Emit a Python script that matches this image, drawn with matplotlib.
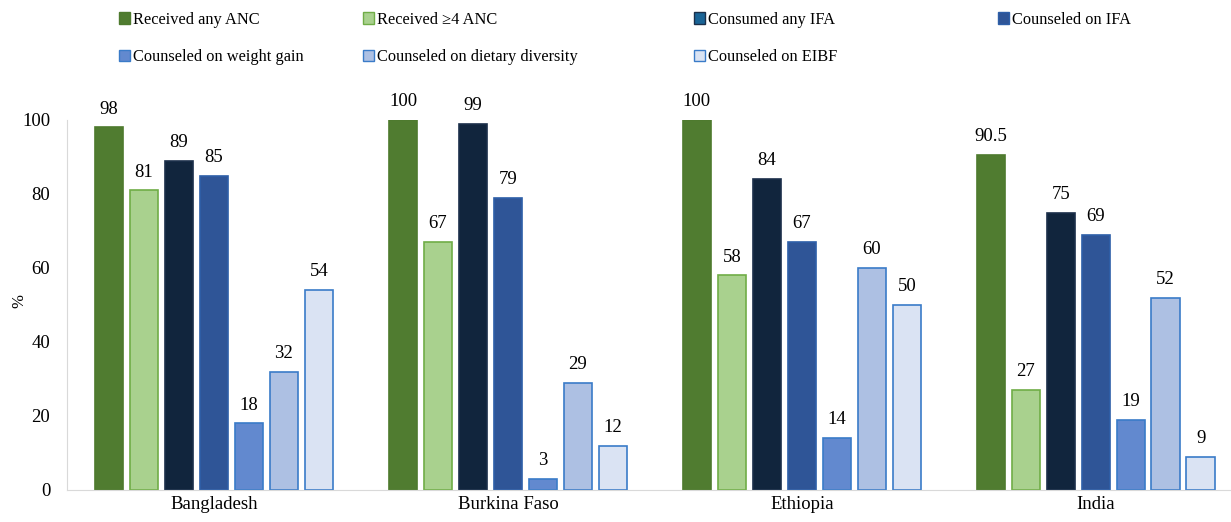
import numpy as np
import matplotlib.pyplot as plt
from matplotlib.patches import Patch

plt.rcParams['font.family'] = ['Liberation Serif', 'DejaVu Serif']

countries = ['Bangladesh', 'Burkina Faso', 'Ethiopia', 'India']
series = ['Received any ANC', 'Received \u22654 ANC', 'Consumed any IFA', 'Counseled on IFA',
          'Counseled on weight gain', 'Counseled on dietary diversity', 'Counseled on EIBF']
any_anc = [98, 100, 100, 90.5]
anc4 = [81, 67, 58, 27]
any_ifa = [89, 99, 84, 75]
couns_ifa = [85, 79, 67, 69]
weight_gain = [18, 3, 14, 19]
diet_div = [32, 29, 60, 52]
eibf = [54, 12, 50, 9]
values = [any_anc, anc4, any_ifa, couns_ifa, weight_gain, diet_div, eibf]

fills = ['#507C30', '#A9D18E', '#11253D', '#2F5597', '#6289CF', '#ADC0E3', '#DAE3F3']
edges = ['#4E7A2E', '#70AD47', '#1B2F4A', '#2E5FA8', '#3A7BC8', '#3A7BC8', '#3A7BC8']
legend_fills = ['#507C30', '#A9D18E', '#1A6496', '#2F5597', '#6289CF', '#ADC0E3', '#DAE3F3']

fig = plt.figure(figsize=(12.31, 5.22), dpi=100)
ax = fig.add_axes([67 / 1231, 32 / 522, 1 - 67 / 1231, 370 / 522])

x = np.arange(len(countries))
step = 0.119
width = 0.097
for i, vals in enumerate(values):
    pos = x + (i - 3) * step
    bars = ax.bar(pos, vals, width, color=fills[i], edgecolor=edges[i], linewidth=1.2)
    for b, v in zip(bars, vals):
        ax.annotate(f'{v:g}', (b.get_x() + b.get_width() / 2, v), xytext=(0, 7),
                    textcoords='offset points', ha='center', va='bottom', fontsize=13.5)

ax.set_xlim(-0.5, 3.46)
ax.set_ylim(0, 100)
ax.set_yticks(range(0, 101, 20))
ax.set_xticks(x)
ax.set_xticklabels(countries)
ax.tick_params(length=0, labelsize=13.5)
ax.tick_params(axis='y', pad=12)
ax.tick_params(axis='x', pad=4)
for s in ['top', 'right']:
    ax.spines[s].set_visible(False)
for s in ['left', 'bottom']:
    ax.spines[s].set_color('#D9D9D9')
ax.set_ylabel('%', fontsize=12)
ax.yaxis.set_label_coords(-0.034, 0.51)

# legend laid out as separate columns, like the reference
handles = [Patch(facecolor=legend_fills[i], edgecolor=edges[i], label=series[i]) for i in range(7)]
columns = [[0, 4], [1, 5], [2, 6], [3]]
col_x = [112, 356, 687, 991]
for cols, cx in zip(columns, col_x):
    fig.legend([handles[i] for i in cols], [series[i] for i in cols],
               loc='upper left', bbox_to_anchor=(cx / 1231, 0.99), frameon=False,
               fontsize=11.8, handlelength=0.7, handleheight=0.7, handletextpad=0.2,
               labelspacing=1.3, borderaxespad=0)

fig.savefig('out.png', dpi=100)
